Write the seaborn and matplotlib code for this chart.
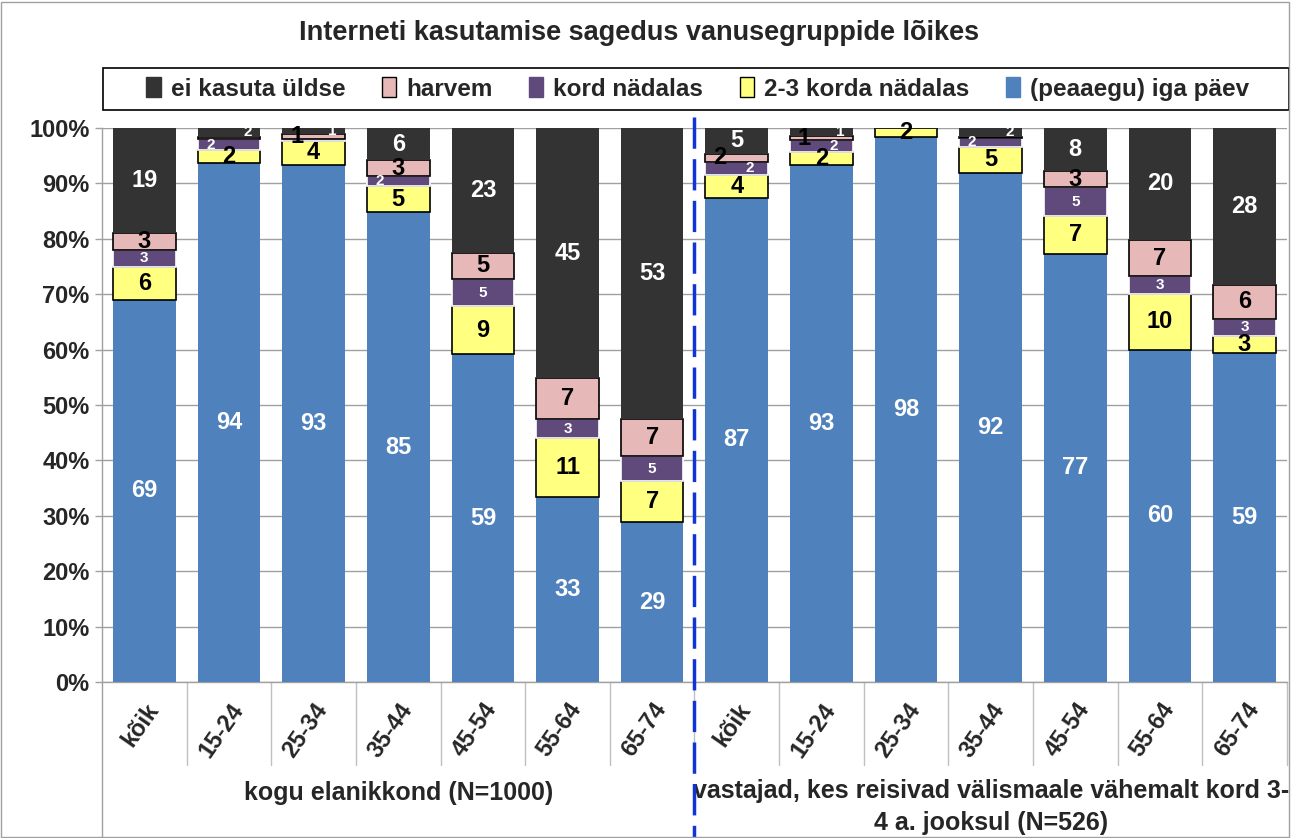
import numpy as np
import pandas as pd
import matplotlib
matplotlib.use('Agg')
import matplotlib.pyplot as plt
import matplotlib.transforms as mtransforms
import seaborn as sns
from matplotlib.patches import Patch, Rectangle

# --- data (shares in %, bottom to top) ---
ages = ['kõik', '15-24', '25-34', '35-44', '45-54', '55-64', '65-74',
        'kõik', '15-24', '25-34', '35-44', '45-54', '55-64', '65-74']
groups = ['kogu elanikkond (N=1000)',
          'vastajad, kes reisivad välismaale vähemalt kord 3-\n4 a. jooksul (N=526)']

daily = [69, 93.6, 93.4, 84.8, 59.2, 33.4, 28.8,
         87.4, 93.4, 98.4, 91.9, 77.3, 60.0, 59.4]
weekly_23 = [6, 2.4, 4.2, 4.7, 8.6, 10.6, 7.4,
             4.2, 2.2, 1.6, 4.7, 6.8, 10.0, 3.1]
weekly_1 = [3, 2.0, 0.4, 1.8, 5.0, 3.4, 4.6,
            2.2, 2.2, 0, 1.6, 5.2, 3.2, 3.1]
rarely = [3, 0.4, 1.0, 2.9, 4.6, 7.4, 6.6,
          1.6, 0.8, 0, 0.2, 3.0, 6.6, 6.1]
never = [19, 1.6, 1.0, 5.8, 22.6, 45.2, 52.6,
         4.6, 1.4, 0, 1.6, 7.7, 20.2, 28.3]

series = ['(peaaegu) iga päev', '2-3 korda nädalas', 'kord nädalas', 'harvem', 'ei kasuta üldse']

df = pd.DataFrame({'pos': range(len(ages)), series[0]: daily, series[1]: weekly_23,
                   series[2]: weekly_1, series[3]: rarely, series[4]: never})

# colour, edge colour, label colour, label size
styles = {
    '(peaaegu) iga päev': ('#4f81bd', '#4f81bd', 'white', 17),
    '2-3 korda nädalas': ('#ffff80', 'black', 'black', 17),
    'kord nädalas': ('#604a7b', 'white', 'white', 11),
    'harvem': ('#e6b9b8', 'black', 'black', 17),
    'ei kasuta üldse': ('#333333', '#333333', 'white', 17),
}

sns.set_theme(style='white')
plt.rcParams['font.family'] = ['Liberation Sans Narrow', 'Liberation Sans', 'DejaVu Sans']
plt.rcParams['font.weight'] = 'bold'

fig = plt.figure(figsize=(12.92, 8.38), dpi=100)
ax = fig.add_axes([0.079, 0.1862, 0.917, 0.661])

bottom = np.zeros(len(ages))
for s in series:
    fc, ec, tc, fs = styles[s]
    vals = df[s].to_numpy(dtype=float)
    sns.barplot(data=df, x='pos', y=s, color=fc, saturation=1, width=0.74,
                bottom=bottom, edgecolor=ec, linewidth=1.2 if ec != fc else 0,
                errorbar=None, ax=ax, zorder=3)
    for i, v in enumerate(vals):
        lab = int(round(v))
        if lab < 1:
            continue
        size = fs
        dx = 0
        if s == 'ei kasuta üldse' and v < 3:
            size = 11
            dx = 0.22
        if s == 'harvem' and v < 2:
            dx = -0.2
        if s == 'kord nädalas' and v < 2.5:
            # small label: left, unless a small pink label sits right above it
            dx = 0.15 if 0.5 <= rarely[i] < 2 else -0.22
        ax.text(i + dx, bottom[i] + v / 2, str(lab), ha='center', va='center',
                color=tc, fontsize=size, fontweight='bold', zorder=5)
    bottom += vals

ax.set_ylim(0, 100)
ax.set_xlim(-0.5, len(ages) - 0.5)
ax.set_yticks(np.arange(0, 101, 10))
ax.set_yticklabels([f'{v}%' for v in range(0, 101, 10)], fontsize=17, fontweight='bold')
ax.yaxis.grid(True, color='#a0a0a0', linewidth=1, zorder=0)
ax.set_axisbelow(True)
ax.set_xlabel('')
ax.set_ylabel('')
ax.set_xticks(range(len(ages)))
ax.set_xticklabels(ages, rotation=55, ha='right', rotation_mode='anchor',
                   fontsize=17, fontweight='bold')
ax.tick_params(axis='x', length=0, pad=12)
ax.tick_params(axis='y', length=5, width=1, color='#a0a0a0', pad=4, left=True)
for sp in ['top', 'right']:
    ax.spines[sp].set_visible(False)
for sp in ['left', 'bottom']:
    ax.spines[sp].set_color('#a0a0a0')
    ax.spines[sp].set_linewidth(1)

# category separators below the axis
trans = mtransforms.blended_transform_factory(ax.transData, ax.transAxes)
for k in range(len(ages)):
    ax.plot([k + 0.5, k + 0.5], [0, -0.15], color='#c0c0c0', lw=1, transform=trans, clip_on=False)
ax.plot([-0.5, -0.5], [0, -0.29], color='#a0a0a0', lw=1, transform=trans, clip_on=False)

# group separator
ax.plot([6.5, 6.5], [1.02, -0.29], color='#1035d6', lw=2.5, ls=(0, (9, 3)),
        transform=trans, clip_on=False, zorder=6)

# group labels
ax.text(3, -0.2, groups[0], transform=trans, ha='center', va='center', fontsize=18, fontweight='bold')
ax.text(10, -0.226, groups[1], transform=trans, ha='center', va='center', fontsize=18,
        fontweight='bold', linespacing=1.4)

fig.text(0.495, 0.961, 'Interneti kasutamise sagedus vanusegruppide lõikes',
         ha='center', va='center', fontsize=19.5, fontweight='bold')

# legend
fig.patches.append(Rectangle((0.0797, 0.869), 0.918, 0.05, transform=fig.transFigure,
                             fill=False, edgecolor='black', lw=1.2))
handles = [Patch(facecolor=styles[s][0], edgecolor=('black' if styles[s][1] == 'black' else styles[s][0]),
                 label=s) for s in series[::-1]]
leg = fig.legend(handles=handles, loc='center', bbox_to_anchor=(0.54, 0.894), ncol=5,
                 frameon=False, fontsize=17.5, handlelength=0.6, handleheight=0.9,
                 handletextpad=0.4, columnspacing=1.5)
for t in leg.get_texts():
    t.set_fontweight('bold')

fig.patches.append(Rectangle((0.001, 0.001), 0.997, 0.997, transform=fig.transFigure,
                             fill=False, edgecolor='#a0a0a0', lw=1))

fig.savefig('out.png', dpi=100)
